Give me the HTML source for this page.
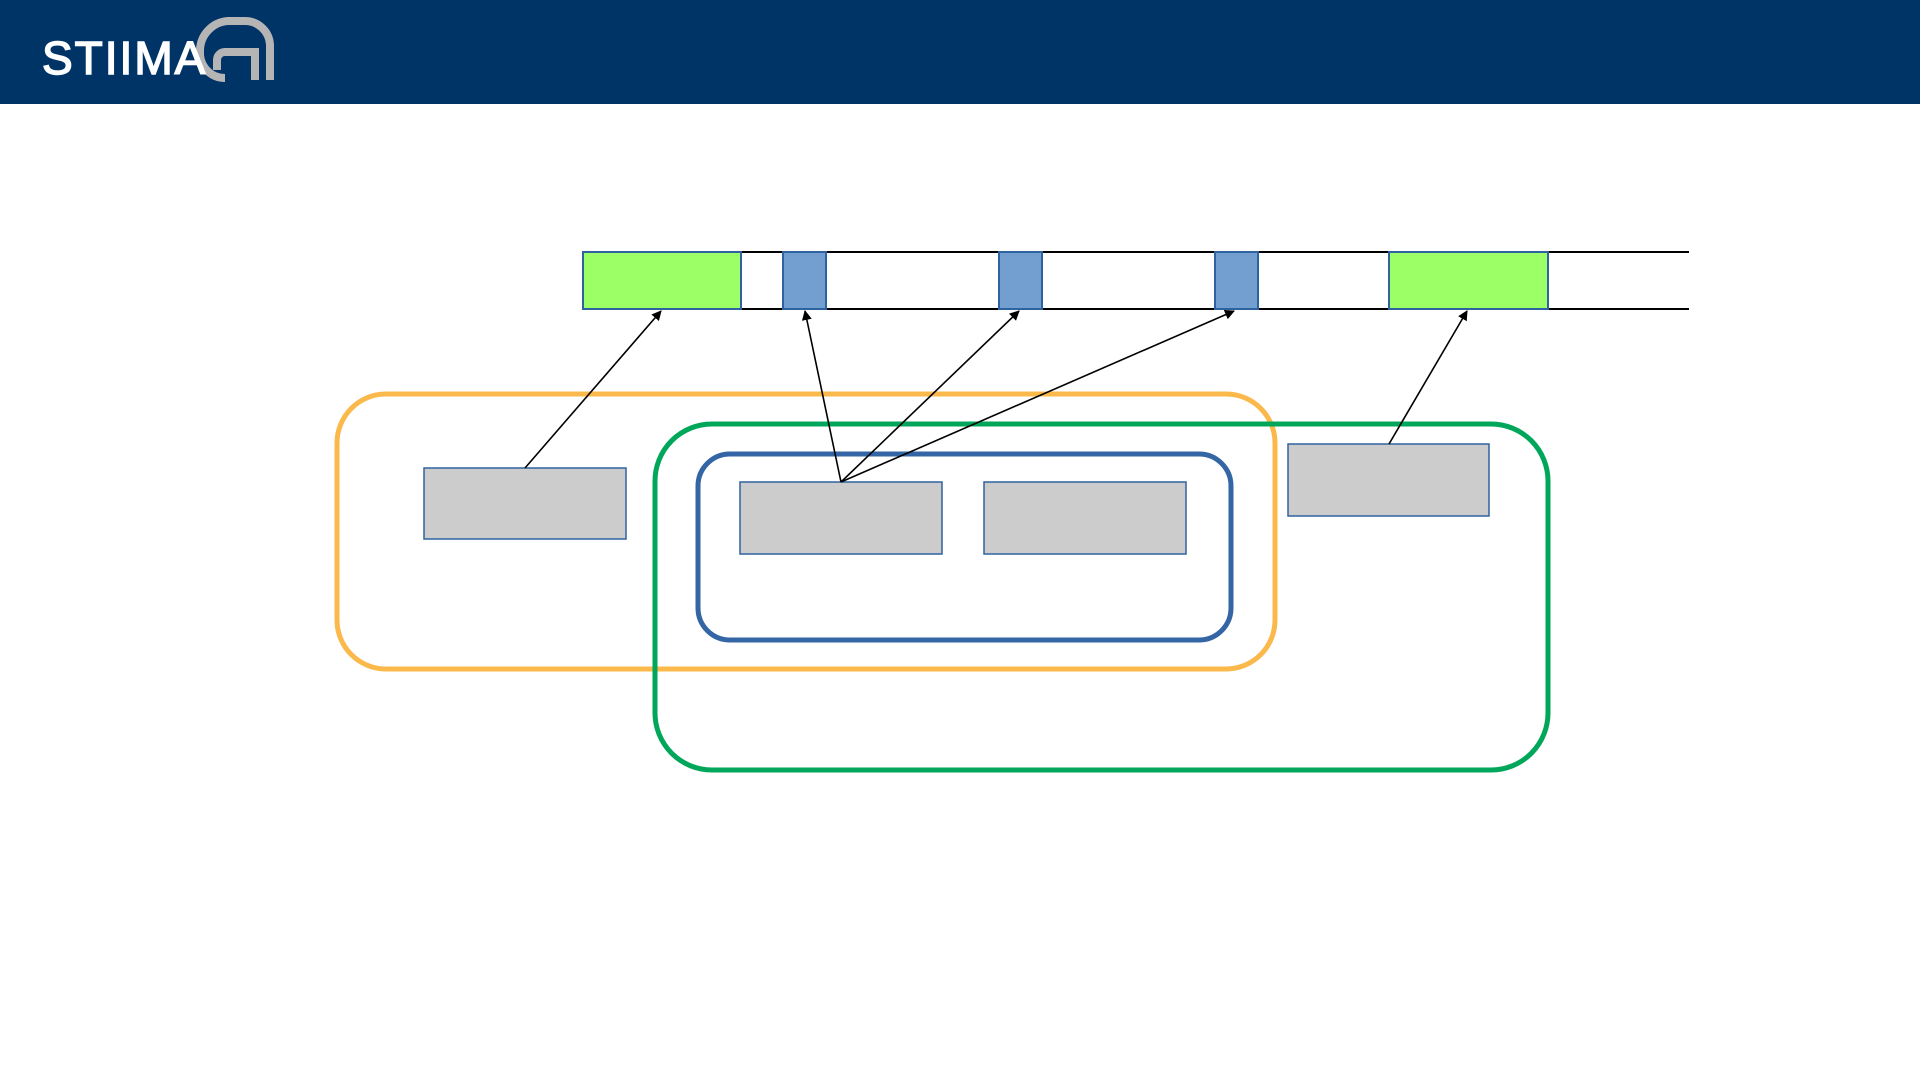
<!DOCTYPE html>
<html><head><meta charset="utf-8"><style>
html,body{margin:0;padding:0;background:#fff;width:1920px;height:1080px;overflow:hidden}
</style></head><body>
<svg width="1920" height="1080" viewBox="0 0 1920 1080" xmlns="http://www.w3.org/2000/svg">
<defs><marker id="a" markerWidth="10" markerHeight="10" refX="9" refY="5" orient="auto" markerUnits="userSpaceOnUse"><path d="M0,0 L10,5 L0,10 z" fill="#000"/></marker></defs>
<rect x="0" y="0" width="1920" height="104" fill="#003366"/>
<g fill="none" stroke="#b5b5b5" stroke-width="8">
<path d="M270,80 V45 A25,25 0 0 0 245,21 H228 A30,30 0 0 0 200,50 V55 A25,25 0 0 0 225,78"/>
<path d="M255,80 V52 H225 A8,8 0 0 0 217,60 V70"/>
</g>
<text x="42" y="74" font-family="Liberation Sans, sans-serif" font-size="46" fill="#fff" stroke="#fff" stroke-width="1.5" letter-spacing="2">STIIMA</text>
<line x1="741" y1="252" x2="1689" y2="252" stroke="#000" stroke-width="2"/>
<line x1="741" y1="309" x2="1689" y2="309" stroke="#000" stroke-width="2"/>
<line x1="640" y1="309" x2="741" y2="309" stroke="#999" stroke-width="2"/>
<g stroke="#2f62a0" stroke-width="2">
<rect x="583" y="252" width="158" height="57" fill="#9cff66"/>
<rect x="1389" y="252" width="159" height="57" fill="#9cff66"/>
<rect x="783" y="252" width="43" height="57" fill="#729fcf"/>
<rect x="999" y="252" width="43" height="57" fill="#729fcf"/>
<rect x="1215" y="252" width="43" height="57" fill="#729fcf"/>
</g>
<g fill="none" stroke-width="5">
<rect x="337" y="394" width="938" height="275" rx="49" stroke="#fbb84b"/>
<rect x="655" y="424" width="893" height="346" rx="57" stroke="#00a65a"/>
<rect x="698" y="454" width="533" height="186" rx="32" stroke="#3465a4"/>
</g>
<g fill="#cccccc" stroke="#2f62a0" stroke-width="1.5">
<rect x="424" y="468" width="202" height="71"/>
<rect x="740" y="482" width="202" height="72"/>
<rect x="984" y="482" width="202" height="72"/>
<rect x="1288" y="444" width="201" height="72"/>
</g>
<g stroke="#000" stroke-width="1.6" marker-end="url(#a)">
<line x1="525" y1="468" x2="661" y2="311"/>
<line x1="841" y1="482" x2="805" y2="311"/>
<line x1="841" y1="482" x2="1019" y2="311"/>
<line x1="841" y1="482" x2="1234" y2="311"/>
<line x1="1389" y1="444" x2="1467" y2="311"/>
</g>
</svg>
</body></html>
